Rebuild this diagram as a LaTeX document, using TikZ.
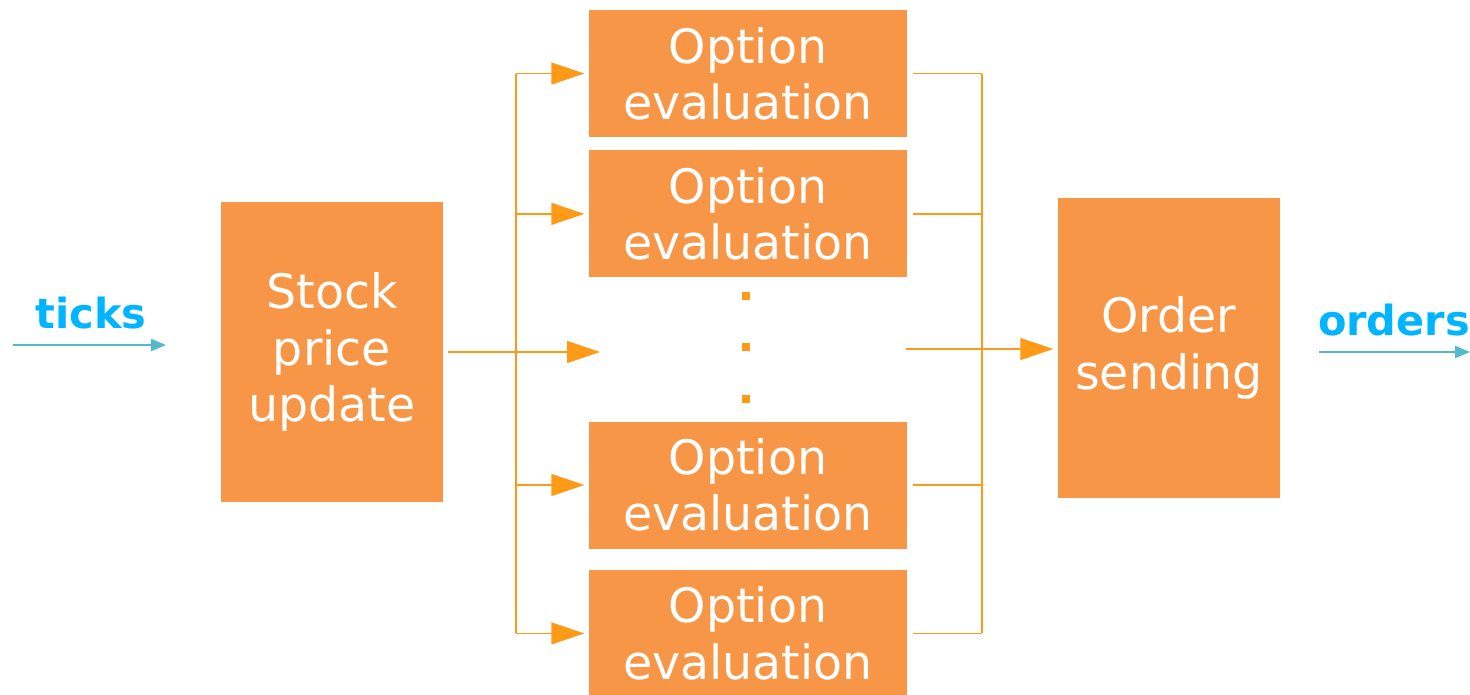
\documentclass[tikz,border=0pt]{standalone}
\usepackage{fontspec}
\setmainfont{DejaVu Sans}
\usetikzlibrary{positioning}
\usetikzlibrary{arrows.meta}
\definecolor{boxorange}{HTML}{F79646}
\definecolor{lineorange}{HTML}{FF9A17}
\definecolor{tickblue}{HTML}{00B4FF}
\definecolor{feedteal}{HTML}{55B9CC}
\tikzset{block/.style={fill=boxorange, text=white, align=center, inner sep=0pt,
    font=\fontsize{13.5}{16}\selectfont}}
\tikzset{optbox/.style={block, minimum width=31.8mm, minimum height=12.7mm}}
\tikzset{bigbox/.style={block, minimum width=22.2mm, minimum height=30mm}}
\tikzset{wire/.style={draw=lineorange, line width=0.4pt}}
\tikzset{flow/.style={wire, -{Triangle[length=3.3mm, width=2.2mm]}}}
\tikzset{feed/.style={draw=feedteal, line width=0.6pt, -{Triangle[length=1.5mm, width=1.2mm]}}}
\tikzset{tag/.style={text=tickblue, font={\fontsize{11.8}{14}\selectfont\bfseries}}}
\tikzset{dot/.style={fill=lineorange, inner sep=0pt, minimum size=0.8mm}}

\begin{document}
\begin{tikzpicture}[x=0.1mm, y=-0.1mm]
    \useasboundingbox (0, 0) rectangle (1470, 694);

    \node[bigbox] (stock) at (332, 352) {Stock\\price\\update};
    \node[optbox] (opt1) at (748, 73.5) {Option\\evaluation};
    \node[optbox, below=1.2mm of opt1] (opt2) {Option\\evaluation};
    \node[optbox] (opt3) at (748, 485) {Option\\evaluation};
    \node[optbox, below=2mm of opt3] (opt4) {Option\\evaluation};
    \node[bigbox] (order) at (1169, 348) {Order\\sending};

    \node[dot] (dotA) at (746, 296) {};
    \node[dot] (dotB) at (746, 347) {};
    \node[dot] (dotC) at (746, 399) {};

    \node[tag] (ticks) at (91, 313) {ticks};
    \node[tag] (orders) at (1394, 320) {orders};
    \coordinate (tickin) at (13, 345);
    \coordinate (tickout) at (166, 345);
    \coordinate (ordin) at (1319, 352);
    \coordinate (ordout) at (1470, 352);
    \draw[feed] (tickin) -- (tickout);
    \draw[feed] (ordin) -- (ordout);

    % fan out
    \coordinate (fanout) at (516, 352);
    \coordinate (midin) at (600, 352);
    \draw[flow, shorten <=0.4mm] (stock.east) -- (midin);
    \draw[wire] (fanout |- opt1) -- (fanout |- opt4);
    \foreach \b in {opt1, opt2, opt3, opt4}
        \draw[flow, shorten >=0.4mm] (fanout |- \b) -- (\b.west);

    % fan in
    \coordinate (fanin) at (982, 349);
    \coordinate (midout) at (906, 349);
    \draw[wire] (fanin |- opt1) -- (fanin |- opt4);
    \foreach \b in {opt1, opt2, opt3, opt4}
        \draw[wire, shorten <=0.5mm] (\b.east) -- (fanin |- \b);
    \draw[flow, shorten >=0.4mm] (midout) -- (order.west |- midout);
\end{tikzpicture}
\end{document}
